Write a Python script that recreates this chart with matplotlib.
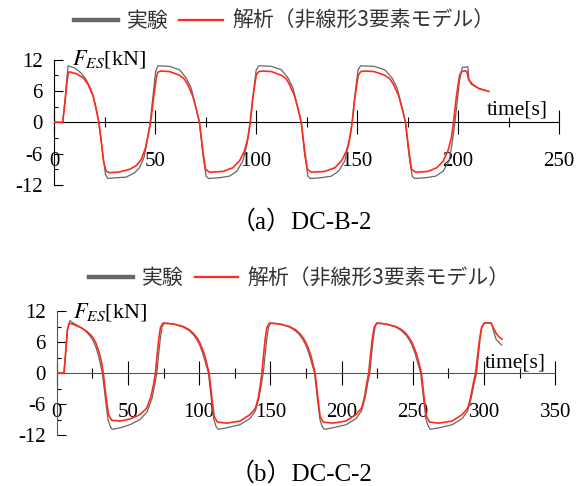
import numpy as np
from matplotlib import pyplot as plt

plt.rcParams['font.family'] = ['Liberation Serif', 'Noto Sans CJK JP']
plt.rcParams['mathtext.fontset'] = 'stix'
plt.rcParams['axes.unicode_minus'] = False

# ---------- DC-B-2 : time [s] and force F_ES [kN]
tb_exp = [0, 4.3, 5.5, 6.5, 7.0, 10.2, 13.5, 15.9, 18.4, 20.5, 22.2, 24.2, 25.5, 26.6, 30.8, 35.7,
          39.9, 42.3, 44.5, 46.1, 47.6, 48.9, 50.3, 51.4, 57.2, 62.1, 65.4, 67.9, 70.3, 72.0,
          73.7, 75.3, 76.5, 81.9, 86.9, 90.5, 93.5, 95.5, 97.2, 98.8, 100.1, 101.4, 107.6, 112.5,
          115.8, 118.3, 120.7, 122.4, 124.1, 125.7, 126.9, 132.3, 137.3, 140.9, 143.9, 145.9,
          147.6, 149.2, 150.5, 151.8, 158.5, 163.7, 167.3, 169.9, 172.3, 174.0, 175.7, 177.3,
          178.5, 184.0, 189.0, 192.6, 195.6, 197.0, 198.5, 200.7, 202.1, 204.9, 205.4, 206.5,
          209.8, 214.0]
fb_exp = [0, 0, 4.5, 9.0, 10.8, 10.4, 9.4, 8.15, 6.25, 3.4, 0, -6.2, -10.0, -10.75, -10.6, -10.5,
          -9.65, -8.7, -6.8, -3.6, 0, 4.65, 9.7, 10.8, 10.7, 10.05, 8.5, 6.55, 2.75, 0,
          -6.2, -10.3, -10.75, -10.6, -10.3, -9.35, -7.4, -4.25, 0, 5.9, 10.0, 10.8, 10.7, 10.05,
          8.5, 6.55, 2.75, 0, -6.2, -10.3, -10.75, -10.6, -10.3, -9.35, -7.4, -4.25,
          0, 5.9, 10.0, 10.8, 10.7, 10.05, 8.5, 6.55, 2.75, 0, -6.2, -10.3,
          -10.75, -10.6, -10.3, -9.35, -7.4, -4.25, 0, 7.8, 10.5, 10.6, 8.15, 7.3,
          6.55, 6.05]

tb_ana = [0, 4.3, 5.5, 6.5, 7.1, 7.6, 11.0, 14.5, 16.9, 19.4, 20.9, 22.2, 23.4, 24.5, 25.8, 27.5,
          32.4, 37.4, 40.7, 43.2, 45.3, 47.0, 48.1, 49.3, 50.6, 51.4, 53.0, 57.2, 62.1, 64.5,
          66.2, 68.7, 70.7, 72.0, 73.7, 75.0, 77.0, 83.6, 88.5, 91.8, 94.3, 96.0, 97.1, 98.4,
          100.1, 101.4, 103.5, 107.6, 112.5, 115.0, 116.6, 119.1, 121.1, 122.4, 124.1, 125.4,
          127.4, 134.0, 139.0, 142.3, 144.8, 146.5, 147.6, 148.9, 150.6, 151.9, 154.0, 158.5,
          163.7, 166.3, 168.1, 170.7, 172.7, 174.0, 175.7, 177.0, 179.0, 185.0, 189.5, 192.7,
          195.0, 196.7, 197.8, 199.1, 200.8, 201.8, 203.5, 204.4, 205.3, 207.3, 210.6, 215.3]
fb_ana = [0, 0, 4.0, 8.0, 9.4, 9.65, 9.3, 8.5, 7.2, 5.0, 2.4, 0, -3.6, -7.4, -9.35, -9.65,
          -9.5, -9.0, -8.3, -7.1, -4.9, -1.7, 0.8, 4.65, 8.5, 9.6, 9.8, 9.7, 9.0, 8.3,
          7.2, 5.0, 2.1, 0, -5.5, -9.0, -9.55, -9.4, -8.7, -7.4, -5.5, -3.0, 0, 4.65,
          9.0, 9.7, 9.8, 9.7, 9.0, 8.3, 7.2, 5.0, 2.1, 0, -5.5, -9.0,
          -9.55, -9.4, -8.7, -7.4, -5.5, -3.0, 0, 4.65, 9.0, 9.7, 9.8, 9.7,
          9.0, 8.3, 7.2, 5.0, 2.1, 0, -5.5, -9.0, -9.55, -9.4, -8.7, -7.4,
          -5.5, -3.0, 0, 4.65, 9.0, 9.7, 9.85, 9.7, 8.15, 7.2, 6.4, 5.9]

# ---------- DC-C-2 : time [s] and force F_ES [kN]
tc_exp = [0, 5.1, 6.3, 7.5, 9.3, 12.0, 16.0, 20.0, 23.0, 25.5, 27.5, 29.0, 30.5, 32.0, 34.2, 36.0,
          37.5, 39.0, 44.5, 51.5, 58.5, 63.5, 67.0, 69.0, 70.3, 71.5, 72.8, 74.0, 75.5, 82.0,
          89.0, 93.0, 96.0, 98.5, 100.5, 102.3, 104.0, 106.5, 108.5, 110.3, 111.8, 113.3, 119.4,
          128.7, 135.7, 139.5, 142.0, 143.8, 145.0, 146.3, 147.6, 148.8, 150.3, 156.5, 163.5,
          167.5, 170.5, 173.0, 175.0, 176.8, 178.5, 181.0, 183.0, 184.8, 186.3, 187.8, 193.9,
          203.2, 210.2, 214.0, 216.5, 218.3, 219.8, 221.0, 222.3, 223.5, 225.0, 231.0, 238.0,
          242.0, 245.0, 247.5, 249.5, 251.3, 253.0, 255.5, 257.5, 259.3, 260.8, 262.3, 268.4,
          277.7, 284.7, 288.5, 291.0, 293.0, 294.8, 296.0, 297.3, 298.6, 300.3, 305.2, 306.8,
          308.5, 310.5, 312.3]
fc_exp = [0, 0, 4.0, 8.3, 10.15, 9.6, 9.0, 8.2, 7.3, 6.3, 5.0, 3.7, 2.0, 0, -5.0, -9.0,
          -10.3, -10.9, -10.6, -10.0, -9.0, -7.5, -4.8, -2.0, 0, 3.5, 6.8, 9.0, 9.7, 9.5,
          8.9, 8.2, 7.4, 6.4, 5.3, 4.0, 2.4, 0, -5.0, -9.0, -10.3, -10.9, -10.6,
          -10.0, -8.8, -7.3, -4.8, -2.0, 0, 3.5, 6.8, 9.0, 9.7, 9.5, 8.9,
          8.2, 7.4, 6.4, 5.3, 4.0, 2.4, 0, -5.0, -9.0, -10.3, -10.9, -10.6,
          -10.0, -8.8, -7.3, -4.8, -2.0, 0, 3.5, 6.8, 9.0, 9.7, 9.5, 8.9,
          8.2, 7.4, 6.4, 5.3, 4.0, 2.4, 0, -5.0, -9.0, -10.3, -10.9, -10.6,
          -10.0, -8.8, -7.3, -4.8, -2.0, 0, 3.5, 6.8, 9.0, 9.7, 9.7, 8.0,
          6.5, 5.9, 5.4]

tc_ana = [0, 5.1, 6.3, 7.5, 8.6, 10.5, 14.0, 18.0, 21.1, 23.5, 25.7, 27.5, 29.2, 30.5, 31.6, 32.7,
          34.6, 36.3, 38.6, 44.5, 51.5, 58.5, 63.2, 66.2, 68.0, 69.3, 70.5, 71.6, 72.8, 74.5,
          81.9, 88.9, 93.0, 95.9, 98.5, 100.6, 102.5, 104.1, 107.0, 108.8, 110.5, 112.8, 119.4,
          128.7, 135.7, 139.5, 141.5, 143.0, 144.0, 145.2, 146.3, 147.5, 149.2, 156.4, 163.4,
          167.5, 170.4, 173.0, 175.1, 177.0, 178.6, 181.4, 183.2, 184.9, 187.2, 193.8, 203.0,
          210.0, 214.0, 216.0, 217.5, 219.0, 220.3, 221.5, 222.8, 224.5, 231.0, 238.0, 242.0,
          245.0, 247.5, 249.6, 251.5, 253.1, 256.0, 257.8, 259.5, 261.8, 268.4, 277.6, 284.6,
          288.5, 290.5, 292.3, 294.0, 295.5, 296.8, 298.2, 300.0, 302.0, 304.8, 306.6, 308.5,
          310.1, 312.5]
fc_ana = [0, 0, 4.0, 8.3, 9.6, 9.55, 9.15, 8.65, 8.05, 7.5, 6.75, 5.8, 4.5, 3.2, 1.9, 0,
          -4.5, -8.05, -9.15, -9.3, -8.9, -8.05, -6.8, -4.5, -2.2, 0, 3.5, 6.5, 8.8, 9.65,
          9.5, 9.0, 8.4, 7.7, 6.8, 5.8, 4.5, 3.2, 0, -4.5, -8.4, -9.5, -9.7,
          -9.3, -8.05, -6.8, -4.8, -2.2, 0, 3.5, 6.5, 8.8, 9.65, 9.5, 9.0,
          8.4, 7.7, 6.8, 5.8, 4.5, 3.2, 0, -4.5, -8.4, -9.5, -9.7, -9.3,
          -8.05, -6.8, -4.8, -2.2, 0, 3.5, 6.5, 8.8, 9.65, 9.5, 9.0, 8.4,
          7.7, 6.8, 5.8, 4.5, 3.2, 0, -4.5, -8.4, -9.5, -9.7, -9.3, -8.05,
          -6.8, -4.8, -2.2, 0, 3.5, 6.5, 8.8, 9.65, 9.7, 9.65, 8.7, 7.7,
          7.1, 6.55]

legend_labels = ['実験', '解析（非線形3要素モデル）']
captions = ['（a）DC-B-2', '（b）DC-C-2']
xmax = [250, 350]

gray = '#666666'
red = '#ff2a1a'


# ---------- Axes with the x axis drawn through F = 0
def setup_axes(ax, tmax, spine_color):
	ax.set_xlim(0, tmax)
	ax.set_ylim(-12, 12)
	for s in ['top', 'right']:
		ax.spines[s].set_visible(False)
	ax.spines['bottom'].set_position(('data', 0))
	ax.spines['bottom'].set_color(spine_color)
	ax.spines['left'].set_color(spine_color)
	ax.set_xticks(np.arange(0, tmax + 1, 50))
	ax.set_xticks(np.arange(25, tmax, 50), minor=True)
	ax.set_yticks(np.arange(-12, 13, 6))
	ax.set_yticks([-9, -3, 3, 9], minor=True)
	ax.tick_params(axis='x', which='major', direction='inout', length=17, width=0.8, pad=13, labelsize=15)
	ax.tick_params(axis='x', which='minor', direction='inout', length=6.5, width=0.8)
	ax.tick_params(axis='y', which='major', direction='in', length=6.5, width=0.8, pad=8, labelsize=15)
	ax.tick_params(axis='y', which='minor', direction='in', length=3, width=0.8)
	ax.patch.set_visible(False)


fig = plt.figure(figsize=(5.87, 4.86), dpi=100)
ax1 = fig.add_axes([0.0920, 0.6193, 0.8603, 0.2582])
ax2 = fig.add_axes([0.0966, 0.1049, 0.8494, 0.2551])

panels = [(ax1, tb_exp, fb_exp, tb_ana, fb_ana, 'black', (8.9, 11.0), (214.5, 1.5), (0.1260, 0.9568), 0.529),
          (ax2, tc_exp, fc_exp, tc_ana, fc_ana, '#555555', (11.7, 10.8), (300.8, 1.0), (0.1520, 0.4274), 0.011)]

for i, (ax, te, fe, ta, fa, sc, flab, tlab, leg_xy, cap_y) in enumerate(panels):
	setup_axes(ax, xmax[i], sc)
	l1, = ax.plot(te, fe, color=gray, lw=0.9, zorder=3)
	l2, = ax.plot(ta, fa, color=red, lw=1.2, zorder=4)
	ax.text(flab[0], flab[1], r'$F_{ES}$[kN]', fontsize=16, va='baseline', ha='left')
	ax.text(tlab[0], tlab[1], 'time[s]', fontsize=15.5, va='baseline', ha='left')

	leg = fig.legend([l1, l2], legend_labels, loc='center left', bbox_to_anchor=leg_xy,
	                 ncol=2, frameon=False, borderpad=0, borderaxespad=0,
	                 handlelength=2.1, handletextpad=0.45, columnspacing=0.5,
	                 prop={'family': ['Noto Sans CJK JP'], 'size': 15})
	leg.legend_handles[0].set_linewidth(3.2)
	leg.legend_handles[1].set_linewidth(1.6)
	for txt in leg.get_texts():
		txt.set_color('#333333')

	fig.text(0.513, cap_y, captions[i], ha='center', va='baseline', fontsize=18)

fig.savefig('out.png', dpi=100)
